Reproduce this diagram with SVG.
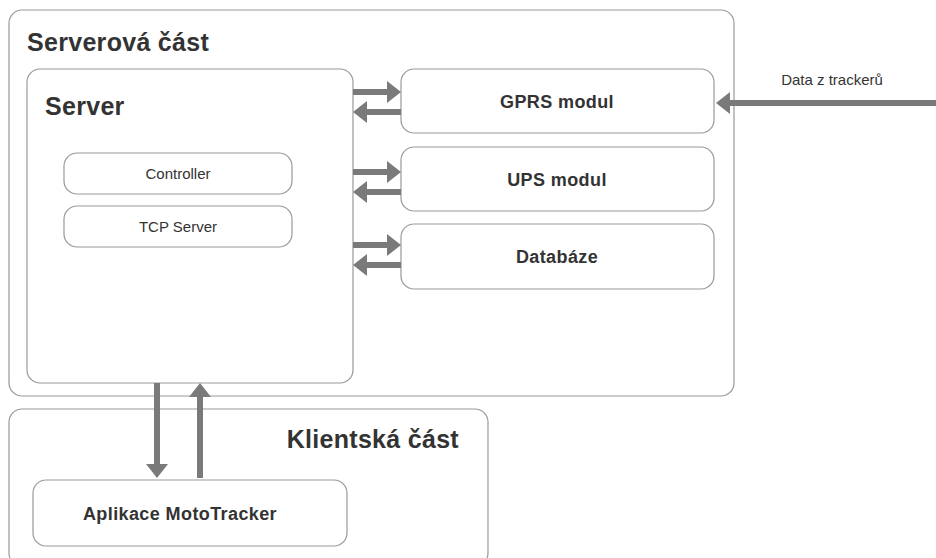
<svg xmlns="http://www.w3.org/2000/svg" width="936" height="558" viewBox="0 0 936 558">
<defs>
<style>
.box{fill:#fff;stroke:#999;stroke-width:1.2}
.t{font-family:"Liberation Sans",Arial,sans-serif;fill:#333}
.big{font-size:25px;font-weight:bold;letter-spacing:0.3px}
.mid{font-size:18px;font-weight:bold;letter-spacing:0.4px}
.sm{font-size:15px}
.ar{stroke:#7a7a7a;stroke-width:6;fill:none}
.hd{fill:#7a7a7a}
</style>
</defs>
<rect width="936" height="558" fill="#fff"/>
<g id="serverova-cast">
<rect class="box" x="9" y="10" width="725" height="386" rx="13"/>
<text class="t big" x="27" y="51">Serverová část</text>
</g>
<g id="server">
<rect class="box" x="27" y="69" width="326" height="314" rx="13"/>
<text class="t big" x="45" y="115">Server</text>
</g>
<g id="controller">
<rect class="box" x="64" y="153" width="228" height="41" rx="13"/>
<text class="t sm" x="178" y="179" text-anchor="middle">Controller</text>
</g>
<g id="tcp-server">
<rect class="box" x="64" y="206" width="228" height="41" rx="13"/>
<text class="t sm" x="178" y="232" text-anchor="middle">TCP Server</text>
</g>
<g id="gprs">
<rect class="box" x="401" y="69" width="313" height="64" rx="13"/>
<text class="t mid" x="557" y="108" text-anchor="middle">GPRS modul</text>
</g>
<g id="ups">
<rect class="box" x="401" y="147" width="313" height="64" rx="13"/>
<text class="t mid" x="557" y="186" text-anchor="middle">UPS modul</text>
</g>
<g id="databaze">
<rect class="box" x="401" y="224" width="313" height="65" rx="13"/>
<text class="t mid" x="557" y="263" text-anchor="middle">Databáze</text>
</g>
<g id="klientska-cast">
<rect class="box" x="9" y="409" width="479" height="157" rx="13"/>
<text class="t big" x="459" y="448" text-anchor="end">Klientská část</text>
</g>
<g id="aplikace">
<rect class="box" x="33" y="480" width="314" height="66" rx="13"/>
<text class="t mid" x="180" y="520" text-anchor="middle">Aplikace MotoTracker</text>
</g>
<g id="connectors">
<line class="ar" x1="353" y1="92" x2="388" y2="92"/>
<polygon class="hd" points="401,92 387,81 387,103"/>
<line class="ar" x1="401" y1="112" x2="366" y2="112"/>
<polygon class="hd" points="353,112 367,101 367,123"/>
<line class="ar" x1="353" y1="172" x2="388" y2="172"/>
<polygon class="hd" points="401,172 387,161 387,183"/>
<line class="ar" x1="401" y1="192" x2="366" y2="192"/>
<polygon class="hd" points="353,192 367,181 367,203"/>
<line class="ar" x1="353" y1="245" x2="388" y2="245"/>
<polygon class="hd" points="401,245 387,234 387,256"/>
<line class="ar" x1="401" y1="265" x2="366" y2="265"/>
<polygon class="hd" points="353,265 367,254 367,276"/>
<line class="ar" x1="936" y1="103" x2="729" y2="103"/>
<polygon class="hd" points="716,103 730,92 730,114"/>
<line class="ar" x1="157" y1="383" x2="157" y2="465"/>
<polygon class="hd" points="157,478 146,464 168,464"/>
<line class="ar" x1="200" y1="478" x2="200" y2="396"/>
<polygon class="hd" points="200,383 189,397 211,397"/>
<text class="t sm" x="832" y="85" text-anchor="middle">Data z trackerů</text>
</g>
</svg>
